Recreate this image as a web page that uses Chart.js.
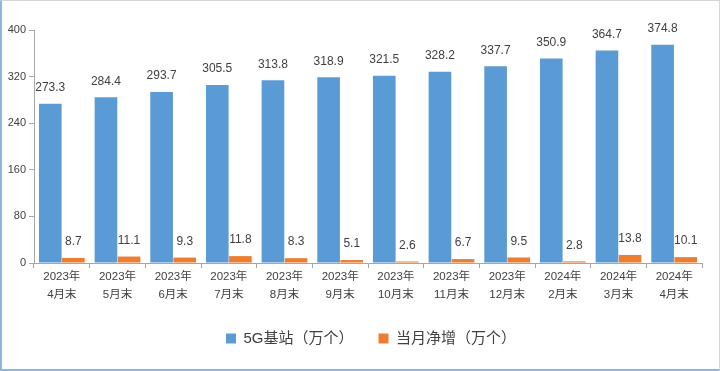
<!DOCTYPE html>
<html>
<head>
<meta charset="utf-8">
<script src="https://cdn.jsdelivr.net/npm/chart.js@4/dist/chart.umd.min.js"></script>
<style>
  html, body { margin: 0; padding: 0; background: #fff; }
  #wrap { position: relative; width: 720px; height: 371px; }
  #frame {
    position: absolute; left: 0; top: 0; width: 720px; height: 371px; box-sizing: border-box;
    border-left: 2px solid #8cb6dd; border-bottom: 2px solid #8cb6dd;
    border-top: 1px solid #d6d6d6; border-right: 1px solid #d6d6d6;
  }
  canvas { position: absolute; left: 0; top: 0; }
</style>
</head>
<body>
<div id="wrap">
  <div id="frame"></div>
  <canvas id="chart" width="720" height="371"></canvas>
</div>
<script>
const categories = [
  ["2023年", "4月末"], ["2023年", "5月末"], ["2023年", "6月末"], ["2023年", "7月末"],
  ["2023年", "8月末"], ["2023年", "9月末"], ["2023年", "10月末"], ["2023年", "11月末"],
  ["2023年", "12月末"], ["2024年", "2月末"], ["2024年", "3月末"], ["2024年", "4月末"]
];
const baseStations = [273.3, 284.4, 293.7, 305.5, 313.8, 318.9, 321.5, 328.2, 337.7, 350.9, 364.7, 374.8];
const monthlyIncrease = [8.7, 11.1, 9.3, 11.8, 8.3, 5.1, 2.6, 6.7, 9.5, 2.8, 13.8, 10.1];
const yTicks = [0, 80, 160, 240, 320, 400];

const fontFamily = "'Liberation Sans', 'Noto Sans CJK SC', sans-serif";
const textColor = "#404040";

// value labels above each bar
const barLabels = {
  id: "barLabels",
  afterLayout(chart) {
    // legend sits a bit right of centre in the original
    chart.legend.left += 18;
    chart.legend.right += 18;
  },
  afterDatasetsDraw(chart) {
    const ctx = chart.ctx;
    ctx.save();
    ctx.font = "12px " + fontFamily;
    ctx.fillStyle = textColor;
    ctx.textAlign = "center";
    ctx.textBaseline = "bottom";
    chart.data.datasets.forEach((ds, i) => {
      chart.getDatasetMeta(i).data.forEach((bar, j) => {
        ctx.fillText(ds.data[j].toFixed(1), bar.x, bar.y - 10);
      });
    });
    ctx.restore();
  }
};

new Chart(document.getElementById("chart"), {
  type: "bar",
  data: {
    labels: categories,
    datasets: [
      {
        label: "5G基站（万个）",
        data: baseStations,
        backgroundColor: "#5b9bd5",
        categoryPercentage: 0.83,
        barPercentage: 0.98
      },
      {
        label: "当月净增（万个）",
        data: monthlyIncrease,
        backgroundColor: "#ed7d31",
        categoryPercentage: 0.83,
        barPercentage: 0.98
      }
    ]
  },
  options: {
    responsive: false,
    animation: false,
    layout: { padding: { left: 4, top: 30, right: 18, bottom: 15 } },
    plugins: {
      tooltip: { enabled: false },
      legend: {
        position: "bottom",
        labels: {
          boxWidth: 10,
          boxHeight: 10,
          padding: 25,
          color: textColor,
          font: { size: 15, family: fontFamily }
        }
      }
    },
    scales: {
      x: {
        grid: { offset: true, drawOnChartArea: false, color: "#a6a6a6", tickLength: 5 },
        border: { color: "#a6a6a6" },
        ticks: { color: textColor, font: { size: 11.5, family: fontFamily, lineHeight: 1.55 }, maxRotation: 0, padding: 0 },
        afterFit(scale) { scale.height = 43; }
      },
      y: {
        min: 0,
        max: 400,
        afterBuildTicks(scale) { scale.ticks = yTicks.map(v => ({ value: v })); },
        grid: { drawOnChartArea: false, color: "#a6a6a6", tickLength: 5 },
        border: { color: "#a6a6a6" },
        ticks: { color: textColor, font: { size: 11, family: fontFamily }, padding: 3 },
        afterFit(scale) { scale.width = 30; }
      }
    }
  },
  plugins: [barLabels]
});
</script>
</body>
</html>
